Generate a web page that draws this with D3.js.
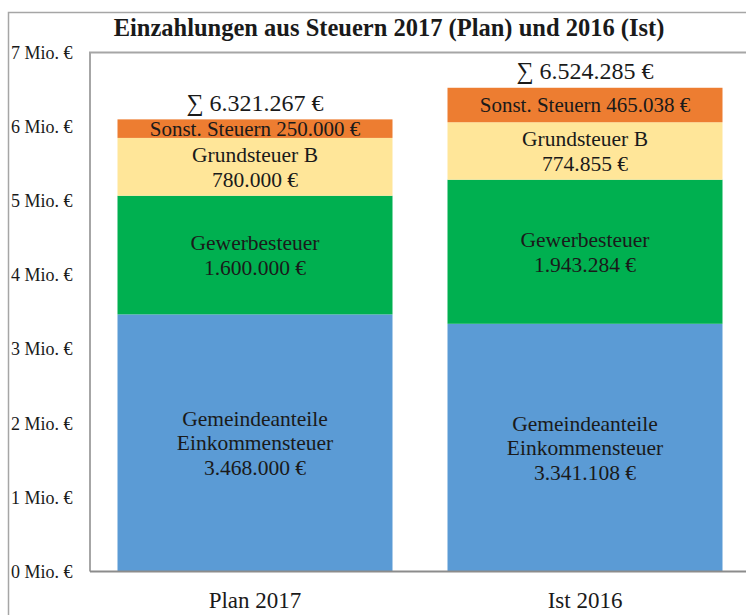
<!DOCTYPE html>
<html><head><meta charset="utf-8">
<script src="https://cdn.jsdelivr.net/npm/d3@7"></script>
<style>body{margin:0;background:#fff}svg{display:block}svg text{font-family:"Liberation Serif",serif;fill:#1a1a1a}</style>
</head><body><svg id="c" width="746" height="615" font-family="Liberation Serif, serif"></svg>
<script>
const categories = ["Plan 2017", "Ist 2016"];
const seriesNames = ["Gemeindeanteile Einkommensteuer", "Gewerbesteuer", "Grundsteuer B", "Sonst. Steuern"];
const einkommen = [3468000, 3341108];
const gewerbe = [1600000, 1943284];
const grund = [780000, 774855];
const sonst = [250000, 465038];
const sumLabels = ["∑ 6.321.267 €", "∑ 6.524.285 €"];
const yTicks = [0,1,2,3,4,5,6,7];
const colors = ["#5B9BD5", "#00B050", "#FFE699", "#ED7D31"];

(function(){
const svg = d3.select("#c");
const W = 746, H = 615;
const x0 = 90, x1 = 750, yTop = 52.5, yBot = 571.5;

svg.append("path").attr("d", `M8.5,${H+5} V12.5 H${W+5}`).attr("fill","none").attr("stroke","#a6a6a6").attr("stroke-width",1.5);

svg.append("text").attr("x", 389).attr("y", 36).attr("text-anchor","middle")
  .style("font-weight","bold").style("font-size","24.5px").text("Einzahlungen aus Steuern 2017 (Plan) und 2016 (Ist)");

const x = d3.scaleBand().domain(categories).range([x0, x1]).paddingInner(1/6).paddingOuter(1/12);
const y = d3.scaleLinear().domain([0, 7000000]).range([yBot, yTop]);

const rows = categories.map((c,i)=>({cat:c, a:einkommen[i], b:gewerbe[i], c:grund[i], d:sonst[i]}));
const stack = d3.stack().keys(["a","b","c","d"])(rows);

function fmt(v){ return d3.format(",")(v).replace(/,/g,".") + " €"; }
const labelLines = [
  i => ["Gemeindeanteile", "Einkommensteuer", fmt(einkommen[i])],
  i => ["Gewerbesteuer", fmt(gewerbe[i])],
  i => ["Grundsteuer B", fmt(grund[i])],
  i => ["Sonst. Steuern " + fmt(sonst[i])]
];

stack.forEach((layer, k) => {
  const g = svg.append("g");
  g.selectAll("rect").data(layer).join("rect")
    .attr("x", d => x(d.data.cat)).attr("width", x.bandwidth())
    .attr("y", d => y(d[1])).attr("height", d => y(d[0]) - y(d[1]))
    .attr("fill", colors[k]);
  layer.forEach((d, i) => {
    const lines = labelLines[k](i);
    const cx = x(d.data.cat) + x.bandwidth()/2;
    const cy = (y(d[0]) + y(d[1]))/2;
    const lh = 24.5;
    const fs = k === 3 ? 21 : 21.5;
    lines.forEach((t, j) => {
      g.append("text").attr("x", cx).attr("y", cy + (j - (lines.length-1)/2)*lh)
        .attr("dy","0.35em").attr("text-anchor","middle").style("font-size", fs+"px").text(t);
    });
  });
});

const topLayer = stack[3];
topLayer.forEach((d,i) => {
  svg.append("text").attr("x", x(d.data.cat) + x.bandwidth()/2).attr("y", y(d[1]) - 17)
    .attr("dy","0.35em").attr("text-anchor","middle").style("font-size","24px").text(sumLabels[i]);
});

svg.append("path").attr("d", `M${x0},${yBot} V${yTop} H${W+5}`).attr("fill","none").attr("stroke","#a6a6a6").attr("stroke-width",2);
svg.append("line").attr("x1", x0).attr("x2", W+5).attr("y1", yBot).attr("y2", yBot).attr("stroke","#8c8c8c").attr("stroke-width",2);

svg.append("g").selectAll("text").data(yTicks).join("text")
  .attr("x", 11).attr("y", d => y(d*1000000)).attr("dy","0.35em")
  .style("font-size","18px").text(d => d + " Mio. €");

svg.append("g").selectAll("text").data(categories).join("text")
  .attr("x", d => x(d) + x.bandwidth()/2).attr("y", 600).attr("dy","0.35em")
  .attr("text-anchor","middle").style("font-size","23px").text(d => d);
})();
</script></body></html>
